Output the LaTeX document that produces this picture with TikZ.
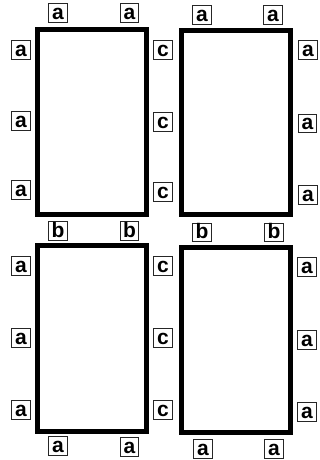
\documentclass[tikz,border=0pt]{standalone}
\usepackage{fontspec}
\setmainfont{Liberation Sans}
\begin{document}
\begin{tikzpicture}[x=1pt,y=1pt,
  lbl/.style={draw=black!85,line width=0.9pt,inner sep=0pt,minimum width=18.5pt,
    minimum height=18.5pt,text height=15.5pt,text depth=2.5pt,align=center,
    font=\fontsize{21}{21}\selectfont\bfseries},
  frame/.style={draw=black,line width=5pt,inner sep=0pt,outer sep=0pt,fill=white}]
\useasboundingbox (0,0) rectangle (320,460);
% frames
\node[frame,minimum width=109pt,minimum height=185pt] (r1) at (92,338) {};
\node[frame,minimum width=109pt,minimum height=184pt] (r2) at (236,337.5) {};
\node[frame,minimum width=109pt,minimum height=186pt] (r3) at (92,121.5) {};
\node[frame,minimum width=109pt,minimum height=185pt] (r4) at (236,120) {};
% top row labels
\node[lbl] (t1) at (58,447) {a};
\node[lbl] (t2) at (129.5,447) {a};
\node[lbl] (t3) at (202,445) {a};
\node[lbl] (t4) at (273,445) {a};
% left column upper
\node[lbl] (l1) at (21,410) {a};
\node[lbl] (l2) at (21,339) {a};
\node[lbl] (l3) at (21,270) {a};
% middle column upper
\node[lbl] (c1) at (163,410) {c};
\node[lbl] (c2) at (163,338) {c};
\node[lbl] (c3) at (163,268) {c};
% right column upper
\node[lbl] (q1) at (308,410) {a};
\node[lbl] (q2) at (307.5,336.5) {a};
\node[lbl] (q3) at (308,265) {a};
% b row
\node[lbl] (b1) at (58,229) {b};
\node[lbl] (b2) at (129.5,229) {b};
\node[lbl] (b3) at (202,227.5) {b};
\node[lbl] (b4) at (274,227.5) {b};
% left column lower
\node[lbl] (l4) at (21,194) {a};
\node[lbl] (l5) at (21,122) {a};
\node[lbl] (l6) at (21,50) {a};
% middle column lower
\node[lbl] (c4) at (163,194) {c};
\node[lbl] (c5) at (163,122) {c};
\node[lbl] (c6) at (163,50) {c};
% right column lower
\node[lbl] (q4) at (307,193) {a};
\node[lbl] (q5) at (307,120) {a};
\node[lbl] (q6) at (307,48) {a};
% bottom row
\node[lbl] (d1) at (58,14) {a};
\node[lbl] (d2) at (129.5,13) {a};
\node[lbl] (d3) at (203,11) {a};
\node[lbl] (d4) at (274,11) {a};
\end{tikzpicture}
\end{document}
